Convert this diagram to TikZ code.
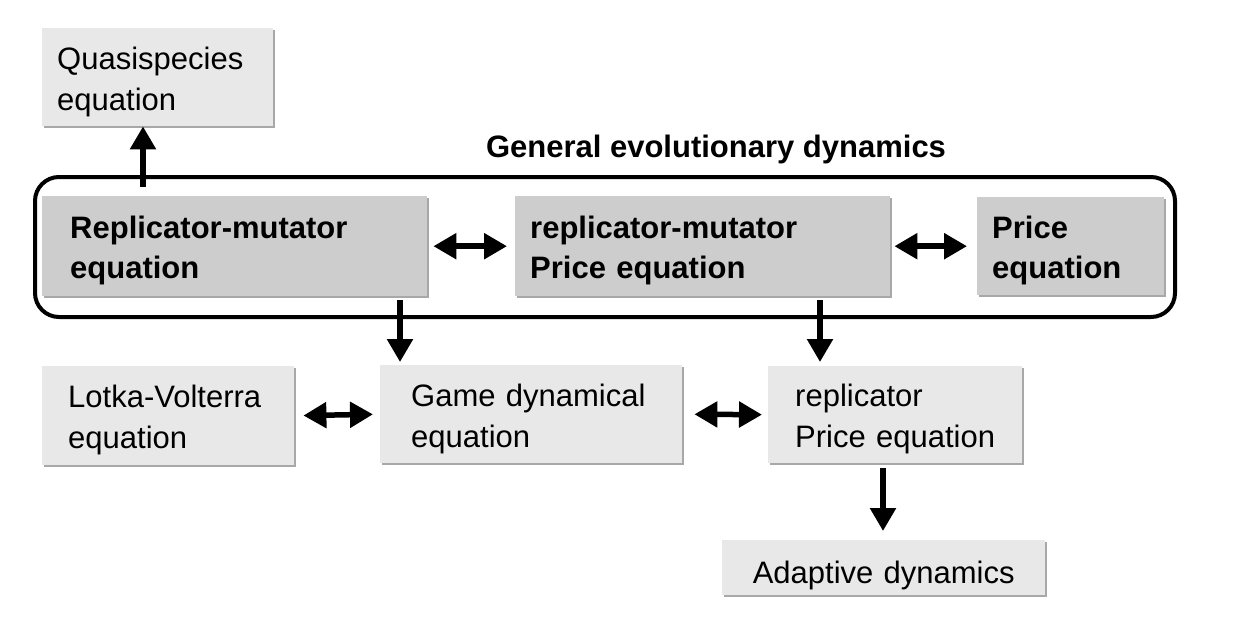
\documentclass[tikz,border=0pt]{standalone}
\usepackage{fontspec}
\setmainfont{Liberation Sans}
\usetikzlibrary{arrows.meta,shadows}
\definecolor{boxlight}{HTML}{E8E8E8}
\definecolor{boxdark}{HTML}{CDCDCD}
\definecolor{shade}{HTML}{A8A8A8}
\tikzset{
  box/.style={anchor=north west, draw=none, align=left, inner ysep=0pt,
    font=\fontsize{31}{41}\selectfont,
    execute at begin node={\rule{0pt}{32pt}},
    drop shadow={shadow xshift=1.6pt, shadow yshift=-1.6pt, fill=shade, opacity=1}},
  lightbox/.style={box, fill=boxlight},
  darkbox/.style={box, fill=boxdark, font=\fontsize{31}{40}\selectfont\bfseries},
  arr/.style={line width=5.5pt, -{Triangle[length=23pt,width=25pt]}},
  darr/.style={line width=5.5pt, {Triangle[length=23pt,width=25pt]}-{Triangle[length=23pt,width=25pt]}},
  container/.style={draw, line width=4pt, rounded corners=24pt}
}
\begin{document}
\begin{tikzpicture}[x=1pt,y=-1pt]
\useasboundingbox (0,0) rectangle (1238,618);

% container
\node[container, minimum width=1140pt, minimum height=140pt, anchor=north west] (gen) at (33,175) {};
\node[font=\fontsize{31}{40}\selectfont\bfseries] (title) at (716,149) {General evolutionary dynamics};

% boxes
\node[lightbox, minimum width=231pt, minimum height=98pt, inner xsep=15pt, text width=201pt] (quasi) at (42,28) {\mbox{Quasispecies}\\\mbox{equation}};
\node[darkbox, minimum width=385pt, minimum height=100pt, inner xsep=28pt, text width=329pt] (rep) at (42,196) {\mbox{Replicator-mutator}\\\mbox{equation}};
\node[darkbox, minimum width=375pt, minimum height=100pt, inner xsep=15pt, text width=345pt] (mid) at (515,196) {\mbox{replicator-mutator}\\\mbox{Price equation}};
\node[darkbox, minimum width=187pt, minimum height=98pt, inner xsep=15pt, text width=157pt] (price) at (977,197) {\mbox{Price}\\\mbox{equation}};
\node[lightbox, minimum width=252pt, minimum height=99pt, inner xsep=26pt, text width=200pt] (lotka) at (42,366) {\mbox{Lotka-Volterra}\\\mbox{equation}};
\node[lightbox, minimum width=302pt, minimum height=98pt, inner xsep=31pt, text width=240pt] (game) at (380,365) {\mbox{Game dynamical}\\\mbox{equation}};
\node[lightbox, minimum width=254pt, minimum height=97pt, inner xsep=27pt, text width=200pt] (rprice) at (768,366) {\mbox{replicator}\\\mbox{Price equation}};
\node[lightbox, minimum width=323pt, minimum height=55pt, align=center, inner xsep=0pt, text width=323pt, text depth=0pt] (adapt) at (722,540) {Adaptive dynamics};

% x positions of vertical connectors
\coordinate (cq) at (143,0);
\coordinate (c1) at (400,0);
\coordinate (c2) at (820,0);
\coordinate (c3) at (883,0);

% connectors
\draw[arr, shorten <=9pt] (rep.north -| cq) -- (quasi.south -| cq);
\draw[darr, shorten <=6pt, shorten >=8pt] (rep.east) -- (mid.west);
\draw[darr, shorten <=4pt, shorten >=10pt] (mid.east) -- (price.west);
\draw[arr, shorten <=4pt, shorten >=3pt] (rep.south -| c1) -- (game.north -| c1);
\draw[arr, shorten <=4pt, shorten >=4pt] (mid.south -| c2) -- (rprice.north -| c2);
\draw[darr, shorten <=9pt, shorten >=7pt] (lotka.east) -- (game.west);
\draw[darr, shorten <=12pt, shorten >=6pt] (game.east) -- (rprice.west);
\draw[arr, shorten <=5pt, shorten >=9pt] (rprice.south -| c3) -- (adapt.north -| c3);
\end{tikzpicture}
\end{document}
